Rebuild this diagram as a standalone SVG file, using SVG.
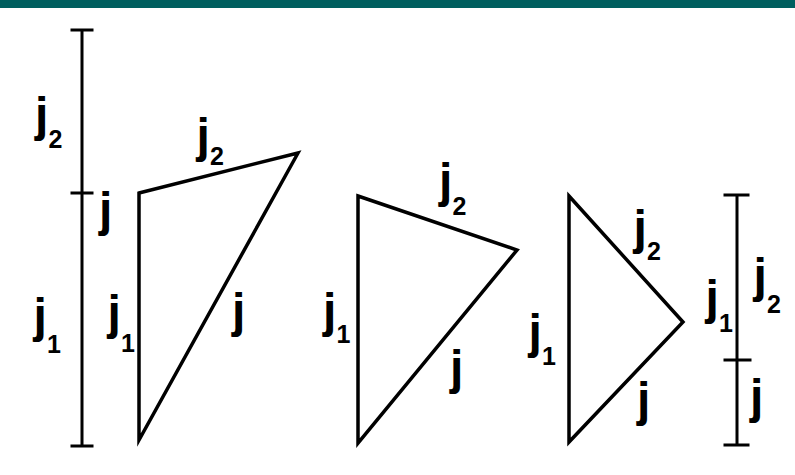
<svg xmlns="http://www.w3.org/2000/svg" width="795" height="475" viewBox="0 0 795 475">
<style>
.ln{stroke:#000;stroke-width:3;fill:none;stroke-linecap:square}
.tri{stroke:#000;stroke-width:3.5;fill:none;stroke-linejoin:miter}
.lb{font-family:"Liberation Sans",Arial,sans-serif;font-weight:bold;font-size:48px;fill:#000}
.sb{font-size:25px}
</style>
<rect x="0" y="0" width="795" height="8" fill="#005F5F"/>
<g id="bar-left">
<path class="ln" d="M82 30V446M72 30H92M72 193H92M72 446H92"/>
<text class="lb" x="35" y="131">j<tspan class="sb" x="48.5" y="148">2</tspan></text>
<text class="lb" x="99" y="226">j</text>
<text class="lb" x="33.5" y="332">j<tspan class="sb" x="47" y="353">1</tspan></text>
</g>
<g id="triangle-1">
<path class="tri" d="M139 193L298 153L139 440Z"/>
<text class="lb" x="196.5" y="152">j<tspan class="sb" x="210" y="165">2</tspan></text>
<text class="lb" x="107.5" y="329">j<tspan class="sb" x="121" y="352">1</tspan></text>
<text class="lb" x="232" y="327">j</text>
</g>
<g id="triangle-2">
<path class="tri" d="M358 196L517 250L358 443Z"/>
<text class="lb" x="439" y="197">j<tspan class="sb" x="452.5" y="215">2</tspan></text>
<text class="lb" x="323" y="327">j<tspan class="sb" x="336.5" y="343">1</tspan></text>
<text class="lb" x="450" y="384">j</text>
</g>
<g id="triangle-3">
<path class="tri" d="M569 196L683 322L569 442Z"/>
<text class="lb" x="633.5" y="244">j<tspan class="sb" x="647" y="260">2</tspan></text>
<text class="lb" x="528.5" y="348">j<tspan class="sb" x="542" y="365">1</tspan></text>
<text class="lb" x="637" y="416">j</text>
</g>
<g id="bar-right">
<path class="ln" d="M737 195V445M725 195H748M725 360H750M725 445H748"/>
<text class="lb" x="705.5" y="314">j<tspan class="sb" x="719" y="332">1</tspan></text>
<text class="lb" x="753.5" y="292">j<tspan class="sb" x="767" y="313">2</tspan></text>
<text class="lb" x="750" y="413">j</text>
</g>
</svg>
